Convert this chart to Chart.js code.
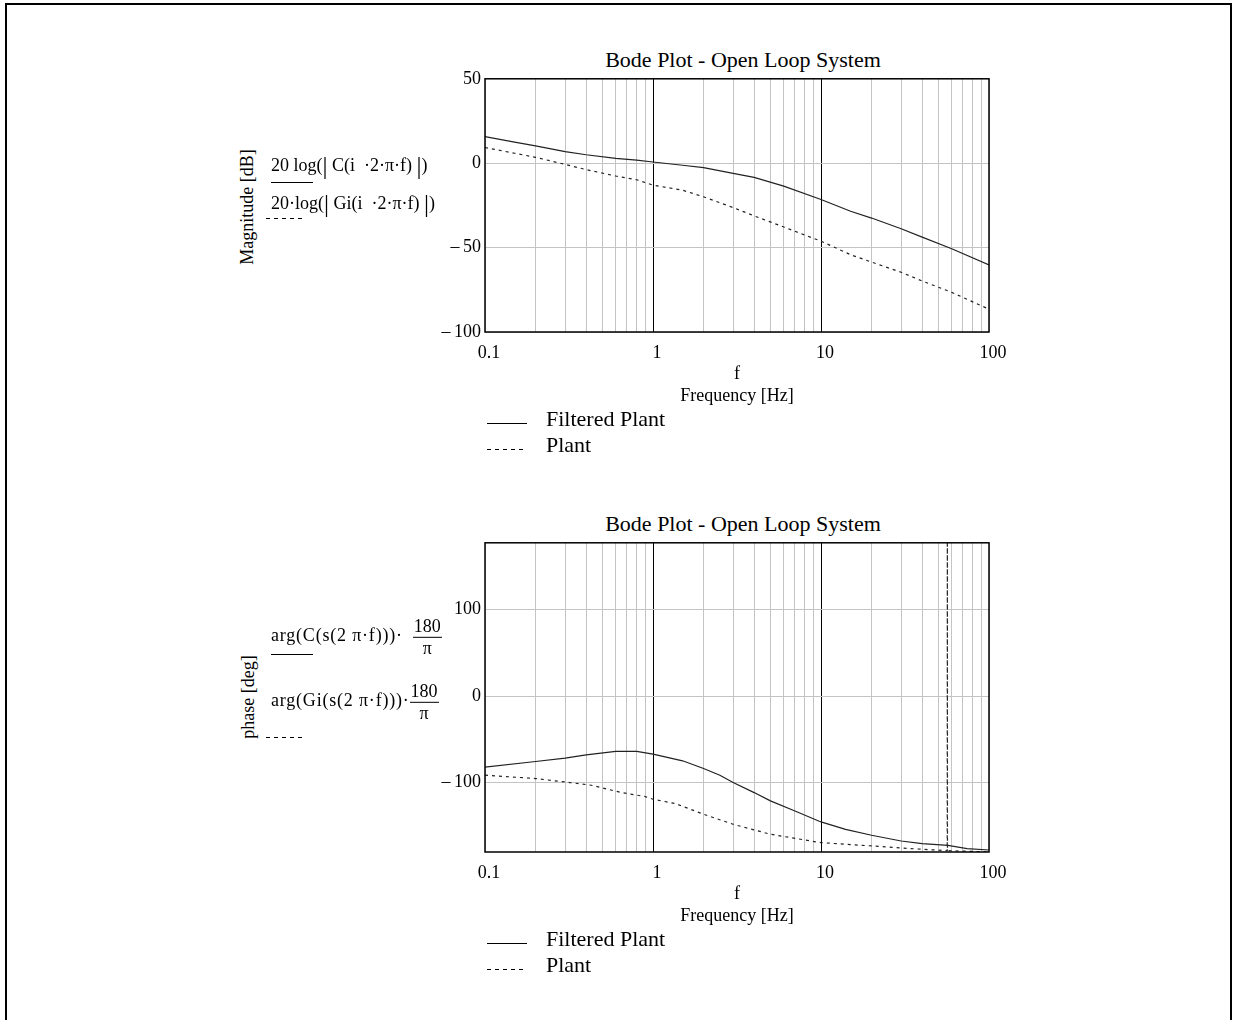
<!DOCTYPE html>
<html>
<head>
<meta charset="utf-8">
<script src="https://cdn.jsdelivr.net/npm/chart.js@4.4.0/dist/chart.umd.min.js"></script>
<style>
  body { margin: 0; background: #fff; font-family: "Liberation Serif", "Times New Roman", serif; color: #000; }
  #page { position: relative; width: 1233px; height: 1020px; overflow: hidden; }
  #frame { position: absolute; left: 5px; top: 3px; width: 1227px; height: 1040px; border: 2px solid #000; box-sizing: border-box; }
  canvas { position: absolute; }
  .t { position: absolute; white-space: nowrap; line-height: 1; transform: translateY(-50%); }
  .title { position: absolute; white-space: nowrap; line-height: 1; transform: translate(-50%, -50%); font-size: 22px; }
  .vert { position: absolute; white-space: nowrap; line-height: 1; transform: translate(-50%, -50%) rotate(-90deg); font-size: 18px; }
  .solid { position: absolute; height: 1px; background: #000; }
  .dash { position: absolute; height: 1px; background: repeating-linear-gradient(to right, #000 0 4px, transparent 4px 8px); }
  .fx { font-size: 18px; }
  .arg { font-size: 18px; letter-spacing: 0.8px; }
  .bar { font-size: 25px; vertical-align: -3px; }
  .frac { display: inline-block; vertical-align: middle; text-align: center; letter-spacing: 0; }
  .frac span { display: block; line-height: 1.15; }
  .frac .num { border-bottom: 1px solid #000; padding: 0 1px; }
  .leg { font-size: 22px; }
</style>
</head>
<body>
<div id="page">
  <div id="frame"></div>

  <div class="title" style="left:743px; top:60px;">Bode Plot - Open Loop System</div>
  <canvas id="magChart" width="630" height="344" style="left:400px; top:64px;"></canvas>
  <div class="title" style="left:743px; top:524px;">Bode Plot - Open Loop System</div>
  <canvas id="phaseChart" width="630" height="400" style="left:400px; top:528px;"></canvas>

  <!-- magnitude plot labels -->
  <div class="vert" style="left:247px; top:207px;">Magnitude [dB]</div>
  <div class="t fx" style="left:271px; top:165px;">20 log(<span class="bar">|</span> C(i &nbsp;·2·π·f) <span class="bar">|</span>)</div>
  <div class="solid" style="left:271px; top:182px; width:42px;"></div>
  <div class="t fx" style="left:271px; top:203px;">20·log(<span class="bar">|</span> Gi(i &nbsp;·2·π·f) <span class="bar">|</span>)</div>
  <div class="dash" style="left:266px; top:218px; width:38px;"></div>

  <div class="solid" style="left:487px; top:423px; width:40px;"></div>
  <div class="t leg" style="left:546px; top:419px;">Filtered Plant</div>
  <div class="dash" style="left:487px; top:449px; width:36px;"></div>
  <div class="t leg" style="left:546px; top:445px;">Plant</div>

  <!-- phase plot labels -->
  <div class="vert" style="left:248px; top:697px;">phase [deg]</div>
  <div class="t arg" style="left:271px; top:637px;">arg(C(s(2 π·f)))·<span class="frac" style="margin-left:10px;"><span class="num">180</span><span>π</span></span></div>
  <div class="solid" style="left:271px; top:654px; width:42px;"></div>
  <div class="t arg" style="left:271px; top:702px;">arg(Gi(s(2 π·f)))·<span class="frac"><span class="num">180</span><span>π</span></span></div>
  <div class="dash" style="left:266px; top:737px; width:38px;"></div>

  <div class="solid" style="left:487px; top:943px; width:40px;"></div>
  <div class="t leg" style="left:546px; top:939px;">Filtered Plant</div>
  <div class="dash" style="left:487px; top:969px; width:36px;"></div>
  <div class="t leg" style="left:546px; top:965px;">Plant</div>
</div>

<script>
// x axis (log) grid positions and labelled decades
const xTicks = [0.1, 0.2, 0.3, 0.4, 0.5, 0.6, 0.7, 0.8, 0.9,
                1, 2, 3, 4, 5, 6, 7, 8, 9,
                10, 20, 30, 40, 50, 60, 70, 80, 90, 100];
const xLabels = [0.1, 1, 10, 100];
const decadeLines = [1, 10];

const magTicks = [-100, -50, 0, 50];
const phaseTicks = [-100, 0, 100];

// magnitude [dB]
const magFreq     = [0.1, 0.15, 0.2, 0.3, 0.4, 0.6, 0.8, 1, 1.5, 2, 3, 4, 6, 10, 15, 20, 30, 40, 60, 100];
const magFiltered = [15.8, 12.5, 10.3, 6.9, 5.0, 2.9, 1.8, 0.7, -1.2, -2.6, -6.0, -8.4, -13.6, -21.5, -28.5, -32.5, -38.8, -43.8, -50.7, -60.3];
const magPlant    = [9.3, 5.9, 3.5, -0.7, -3.8, -7.6, -9.8, -13.0, -16.0, -19.9, -26.3, -31.2, -37.8, -46.2, -54.2, -58.6, -64.6, -69.8, -76.5, -86.5];

// phase [deg]
const phaseFreqFiltered = [0.1, 0.2, 0.3, 0.4, 0.6, 0.8, 1, 1.5, 2, 2.5, 3, 4, 5, 7, 10, 14, 20, 30, 40, 57, 74, 100];
const phaseFiltered     = [-82.1, -75.5, -71.6, -67.8, -63.9, -63.9, -67.0, -74.7, -83.6, -91.3, -99.8, -111.4, -121.0, -132.6, -145.3, -153.8, -160.7, -167.3, -170.3, -172.3, -176.1, -177.7];
const phaseFreqPlant    = [0.1, 0.2, 0.32, 0.43, 0.65, 0.9, 1, 1.36, 2, 3, 5, 8, 10, 20, 40, 56.4, 56.5, 56.6, 100];
const phasePlant        = [-91.3, -95.2, -99.8, -102.9, -111.4, -116.0, -119.1, -124.1, -136.4, -148.0, -159.5, -166.1, -169.2, -173.0, -176.9, -178.4, 179.6, -178.4, -180.0];

const serif = '"Liberation Serif", "Times New Roman", serif';

function points(xs, ys) {
    return xs.map((x, i) => ({ x: x, y: ys[i] }));
}

// box around the plot area
const frameBox = {
    id: 'frameBox',
    afterDraw(chart) {
        const { ctx, chartArea: a } = chart;
        ctx.save();
        ctx.strokeStyle = '#000';
        ctx.lineWidth = 1.5;
        ctx.strokeRect(a.left, a.top, a.right - a.left, a.bottom - a.top);
        ctx.restore();
    }
};

function makeChart(id, yMin, yMax, yTicks, solidPts, dashPts) {
    return new Chart(document.getElementById(id), {
        type: 'line',
        data: {
            datasets: [
                {
                    label: 'Filtered Plant',
                    data: solidPts,
                    borderColor: '#222',
                    borderWidth: 1.2,
                    pointRadius: 0,
                    fill: false
                },
                {
                    label: 'Plant',
                    data: dashPts,
                    borderColor: '#222',
                    borderWidth: 1.2,
                    borderDash: [3, 4],
                    pointRadius: 0,
                    fill: false
                }
            ]
        },
        options: {
            responsive: false,
            animation: false,
            devicePixelRatio: 1,
            layout: { padding: { left: 0, right: 41, top: 10, bottom: 0 } },
            plugins: {
                legend: { display: false },
                tooltip: { enabled: false }
            },
            scales: {
                x: {
                    type: 'logarithmic',
                    min: 0.1,
                    max: 100,
                    afterBuildTicks: s => { s.ticks = xTicks.map(v => ({ value: v })); },
                    afterFit: s => { s.height = 76; },
                    border: { display: false },
                    grid: {
                        drawTicks: false,
                        color: c => (c.tick && decadeLines.includes(c.tick.value)) ? '#000' : '#c4c4c4',
                        lineWidth: 1
                    },
                    ticks: {
                        autoSkip: false,
                        maxRotation: 0,
                        padding: 10,
                        labelOffset: 4,
                        color: '#000',
                        font: { family: serif, size: 18 },
                        callback: v => xLabels.includes(v) ? String(v) : ''
                    },
                    title: {
                        display: true,
                        text: ['f', 'Frequency [Hz]'],
                        color: '#000',
                        font: { family: serif, size: 18, lineHeight: 1.22 },
                        padding: { top: 0, bottom: 1 }
                    }
                },
                y: {
                    min: yMin,
                    max: yMax,
                    afterBuildTicks: s => { s.ticks = yTicks.map(v => ({ value: v })); },
                    afterFit: s => { s.width = 85; },
                    border: { display: false },
                    grid: { drawTicks: false, color: '#c4c4c4', lineWidth: 1 },
                    ticks: {
                        padding: 4,
                        color: '#000',
                        font: { family: serif, size: 18 },
                        callback: v => v < 0 ? '\u2013\u2009' + Math.abs(v) : String(v)
                    }
                }
            }
        },
        plugins: [frameBox]
    });
}

makeChart('magChart', -100, 50, magTicks,
    points(magFreq, magFiltered), points(magFreq, magPlant));

makeChart('phaseChart', -180, 177, phaseTicks,
    points(phaseFreqFiltered, phaseFiltered), points(phaseFreqPlant, phasePlant));
</script>
</body>
</html>
